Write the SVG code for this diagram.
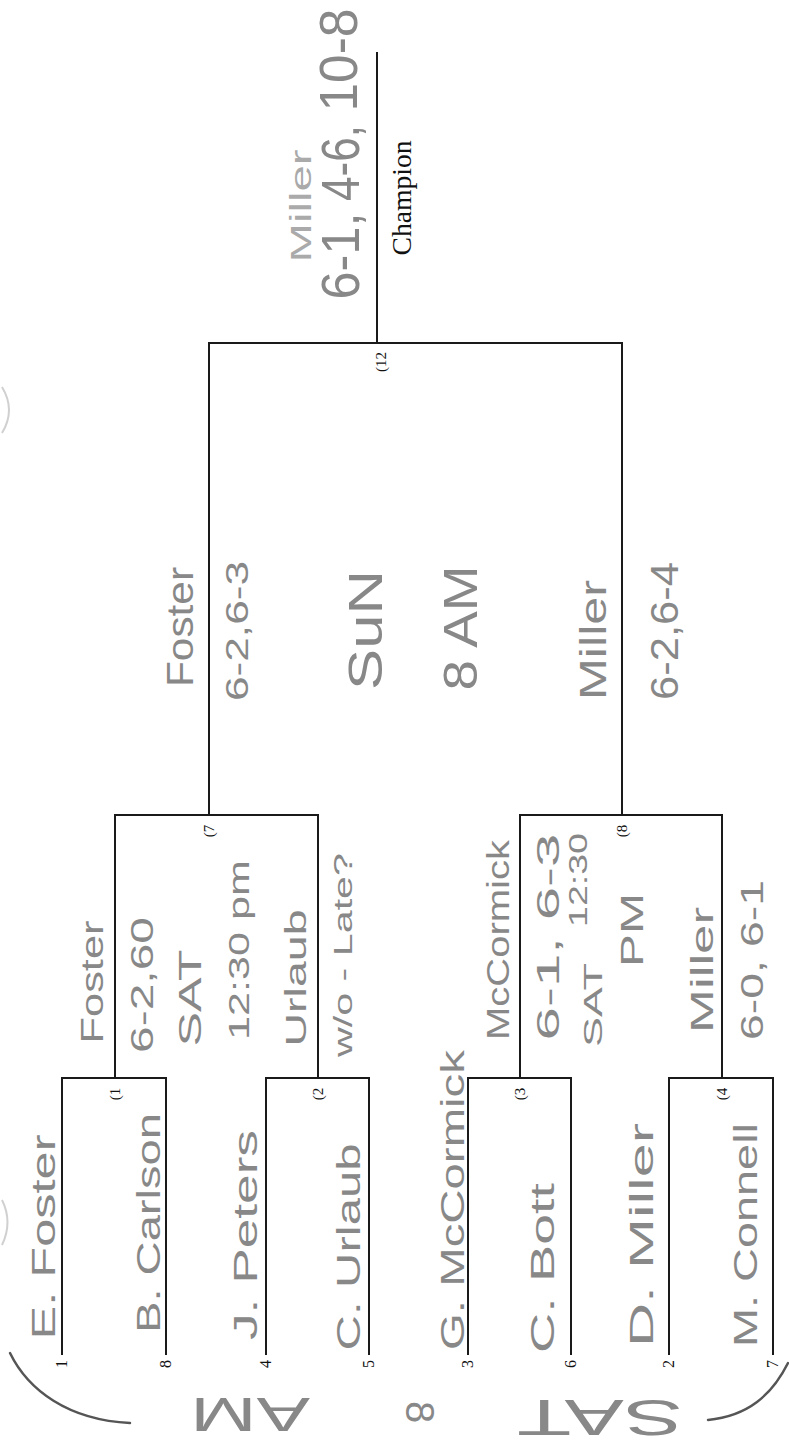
<svg xmlns="http://www.w3.org/2000/svg" width="789" height="1445" viewBox="0 0 789 1445">
<style>
.ln{stroke:#1a1a1a;stroke-width:2;fill:none;stroke-linecap:square}
.hw{font-family:"Liberation Sans",Arial,sans-serif;fill:#888;text-anchor:middle}
.pr{font-family:"Liberation Serif","Times New Roman",serif;fill:#111;text-anchor:middle}
.mk{stroke:#555;stroke-width:2.5;fill:none;stroke-linecap:round}
.fa{stroke:#d0d0d0;stroke-width:2;fill:none}
</style>
<rect width="789" height="1445" fill="#fff"/>
<g id="connectors">
  <path class="ln" d="M62,1354 V1078 H166 V1354"/>
  <path class="ln" d="M266,1354 V1078 H369 V1354"/>
  <path class="ln" d="M468,1354 V1078 H571 V1354"/>
  <path class="ln" d="M669,1354 V1078 H773 V1354"/>
  <path class="ln" d="M115,1078 V815 H318 V1078"/>
  <path class="ln" d="M520,1078 V815 H722 V1078"/>
  <path class="ln" d="M209,815 V343 H622 V815"/>
  <path class="ln" d="M377,343 V53"/>
</g>
<g id="seeds" class="pr" font-size="16">
  <text transform="translate(67,1364) rotate(-90)">1</text>
  <text transform="translate(171,1364) rotate(-90)">8</text>
  <text transform="translate(271,1364) rotate(-90)">4</text>
  <text transform="translate(374,1364) rotate(-90)">5</text>
  <text transform="translate(473,1364) rotate(-90)">3</text>
  <text transform="translate(576,1364) rotate(-90)">6</text>
  <text transform="translate(674,1364) rotate(-90)">2</text>
  <text transform="translate(778,1364) rotate(-90)">7</text>
</g>
<g id="match-labels" class="pr" font-size="15">
  <text transform="translate(120,1094) rotate(-90)">(1</text>
  <text transform="translate(323,1094) rotate(-90)">(2</text>
  <text transform="translate(525,1094) rotate(-90)">(3</text>
  <text transform="translate(727,1094) rotate(-90)">(4</text>
  <text transform="translate(214,831) rotate(-90)">(7</text>
  <text transform="translate(627,831) rotate(-90)">(8</text>
  <text transform="translate(386,362) rotate(-90)">(12</text>
</g>
<g id="champion">
  <text class="pr" font-size="27" transform="translate(411,198) rotate(-90)" textLength="115" lengthAdjust="spacingAndGlyphs">Champion</text>
</g>
<g id="players" class="hw" font-size="34">
  <text transform="translate(43,1237) rotate(-90)" dy="0.35em" textLength="205" lengthAdjust="spacingAndGlyphs">E. Foster</text>
  <text transform="translate(148,1223) rotate(-90)" dy="0.35em" textLength="220" lengthAdjust="spacingAndGlyphs">B. Carlson</text>
  <text transform="translate(245,1235) rotate(-90)" dy="0.35em" textLength="210" lengthAdjust="spacingAndGlyphs">J. Peters</text>
  <text transform="translate(348,1247) rotate(-90)" dy="0.35em" textLength="207" lengthAdjust="spacingAndGlyphs">C. Urlaub</text>
  <text transform="translate(452,1200) rotate(-90)" dy="0.35em" textLength="300" lengthAdjust="spacingAndGlyphs">G. McCormick</text>
  <text transform="translate(542,1268) rotate(-90)" dy="0.35em" textLength="170" lengthAdjust="spacingAndGlyphs">C. Bott</text>
  <text transform="translate(641,1235) rotate(-90)" dy="0.35em" textLength="224" lengthAdjust="spacingAndGlyphs">D. Miller</text>
  <text transform="translate(745,1235) rotate(-90)" dy="0.35em" textLength="224" lengthAdjust="spacingAndGlyphs">M. Connell</text>
</g>
<g id="match1-result" class="hw" font-size="32">
  <text transform="translate(92,982) rotate(-90)" dy="0.35em" textLength="123" lengthAdjust="spacingAndGlyphs">Foster</text>
  <text transform="translate(142,985) rotate(-90)" dy="0.35em" textLength="136" lengthAdjust="spacingAndGlyphs">6-2,60</text>
  <text transform="translate(190,998) rotate(-90)" dy="0.35em" textLength="97" lengthAdjust="spacingAndGlyphs">SAT</text>
</g>
<g id="match2-result" class="hw" font-size="30">
  <text transform="translate(238,950) rotate(-90)" dy="0.35em" textLength="180" lengthAdjust="spacingAndGlyphs">12:30 pm</text>
  <text transform="translate(295,978) rotate(-90)" dy="0.35em" textLength="137" lengthAdjust="spacingAndGlyphs">Urlaub</text>
  <text transform="translate(343,955) rotate(-90)" dy="0.35em" font-size="26" textLength="204" lengthAdjust="spacingAndGlyphs">w/o - Late?</text>
</g>
<g id="match3-result" class="hw" font-size="32">
  <text transform="translate(498,940) rotate(-90)" dy="0.35em" textLength="200" lengthAdjust="spacingAndGlyphs">McCormick</text>
  <text transform="translate(548,937) rotate(-90)" dy="0.35em" textLength="207" lengthAdjust="spacingAndGlyphs">6-1, 6-3</text>
  <text transform="translate(593,1005) rotate(-90)" dy="0.35em" font-size="26" textLength="84" lengthAdjust="spacingAndGlyphs">SAT</text>
  <text transform="translate(578,880) rotate(-90)" dy="0.35em" font-size="26" textLength="94" lengthAdjust="spacingAndGlyphs">12:30</text>
  <text transform="translate(632,930) rotate(-90)" dy="0.35em" textLength="74" lengthAdjust="spacingAndGlyphs">PM</text>
</g>
<g id="match4-result" class="hw" font-size="32">
  <text transform="translate(702,970) rotate(-90)" dy="0.35em" textLength="126" lengthAdjust="spacingAndGlyphs">Miller</text>
  <text transform="translate(752,960) rotate(-90)" dy="0.35em" textLength="160" lengthAdjust="spacingAndGlyphs">6-0, 6-1</text>
</g>
<g id="match7-result" class="hw" font-size="36">
  <text transform="translate(180,627) rotate(-90)" dy="0.35em" textLength="120" lengthAdjust="spacingAndGlyphs">Foster</text>
  <text transform="translate(237,631) rotate(-90)" dy="0.35em" font-size="32" textLength="140" lengthAdjust="spacingAndGlyphs">6-2,6-3</text>
</g>
<g id="final-schedule" class="hw" font-size="48">
  <text transform="translate(365,630) rotate(-90)" dy="0.35em" textLength="120" lengthAdjust="spacingAndGlyphs">SuN</text>
  <text transform="translate(460,628) rotate(-90)" dy="0.35em" textLength="125" lengthAdjust="spacingAndGlyphs">8 AM</text>
</g>
<g id="match8-result" class="hw" font-size="36">
  <text transform="translate(593,640) rotate(-90)" dy="0.35em" textLength="120" lengthAdjust="spacingAndGlyphs">Miller</text>
  <text transform="translate(665,631) rotate(-90)" dy="0.35em" font-size="38" textLength="138" lengthAdjust="spacingAndGlyphs">6-2,6-4</text>
</g>
<g id="final-result" class="hw" font-size="54">
  <text transform="translate(300,206) rotate(-90)" dy="0.35em" font-size="30" fill="#aaa" textLength="113" lengthAdjust="spacingAndGlyphs">Miller</text>
  <text transform="translate(340,256) rotate(-90)" dy="0.35em" textLength="87" lengthAdjust="spacingAndGlyphs">6-1,</text>
  <text transform="translate(340,163) rotate(-90)" dy="0.35em" textLength="76" lengthAdjust="spacingAndGlyphs">4-6,</text>
  <text transform="translate(338,60) rotate(-90)" dy="0.35em" textLength="103" lengthAdjust="spacingAndGlyphs">10-8</text>
</g>
<g id="margin-notes">
  <path class="mk" d="M10,1353 C28,1390 68,1420 130,1423"/>
  <path class="mk" d="M788,1363 C772,1395 748,1416 708,1420"/>
  <path class="fa" d="M2,1200 Q13,1222 2,1245"/>
  <path class="fa" d="M2,387 Q16,410 2,433"/>
  <text class="hw" font-size="48" transform="translate(250,1415) rotate(180)" dy="0.35em" textLength="120" lengthAdjust="spacingAndGlyphs">AM</text>
  <text class="hw" font-size="40" transform="translate(420,1412) rotate(90)" dy="0.35em">8</text>
  <text class="hw" font-size="50" transform="translate(600,1417) rotate(180)" dy="0.35em" textLength="166" lengthAdjust="spacingAndGlyphs">SAT</text>
</g>
</svg>
